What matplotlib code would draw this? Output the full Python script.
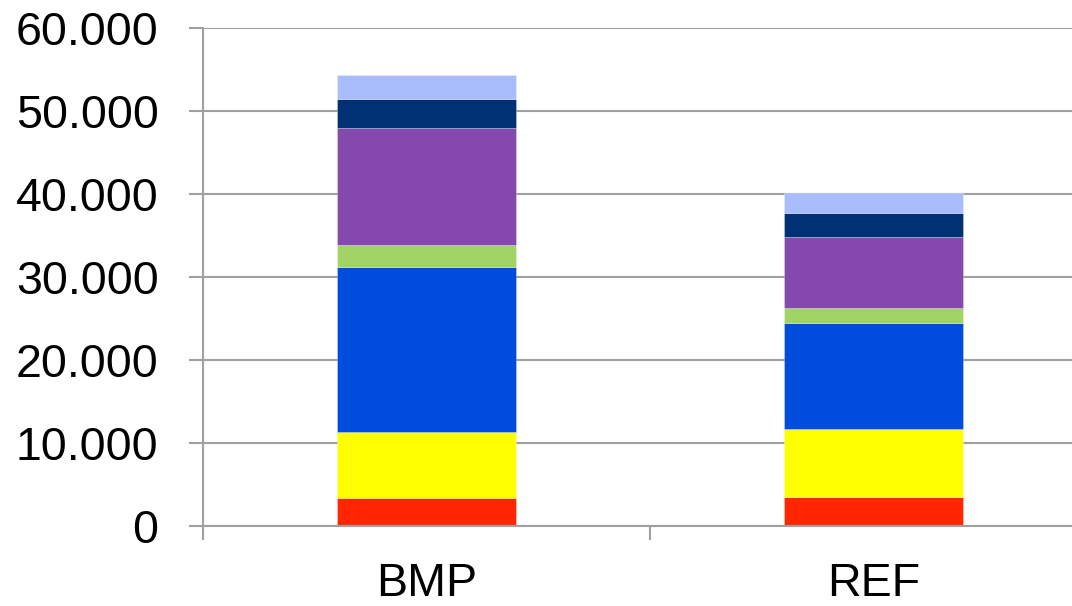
import numpy as np
import matplotlib.pyplot as plt
from matplotlib.ticker import FuncFormatter

plt.rcParams['font.family'] = ['Liberation Sans', 'DejaVu Sans']

categories = ['BMP', 'REF']

# stacked segments, bottom to top
seg_red = [3410, 3490]
seg_yellow = [7880, 8160]
seg_blue = [19950, 12840]
seg_green = [2580, 1740]
seg_purple = [14100, 8590]
seg_navy = [3530, 2850]
seg_light = [2920, 2410]

segments = [seg_red, seg_yellow, seg_blue, seg_green, seg_purple, seg_navy, seg_light]
colors = ['#ff2600', '#ffff00', '#004cdc', '#a0d464', '#8549ae', '#003175', '#a9bdfd']

grid_col = '#a0a0a0'

fig = plt.figure(figsize=(10.72, 6.06), dpi=100)
ax = fig.add_axes([203 / 1072, 80 / 606, 869 / 1072, 498 / 606])

x = np.arange(len(categories))
bottom = np.zeros(len(categories))
for vals, c in zip(segments, colors):
    ax.bar(x, vals, bottom=bottom, width=0.4, color=c, edgecolor=(1, 1, 1, 0.5),
           linewidth=0.4, zorder=3)
    bottom += np.array(vals)

ax.set_xlim(-0.5, 1.444)
ax.set_ylim(0, 60000)
ax.set_yticks(np.arange(0, 60001, 10000))
ax.yaxis.set_major_formatter(FuncFormatter(lambda v, p: f'{int(v):,}'.replace(',', '.')))

ax.set_xticks(x)
ax.set_xticklabels(categories)
ax.set_xticks([-0.5, 0.5], minor=True)

ax.grid(axis='y', color=grid_col, linewidth=1.5, zorder=0)
for s in ['top', 'right']:
    ax.spines[s].set_visible(False)
for s in ['left', 'bottom']:
    ax.spines[s].set_color(grid_col)
    ax.spines[s].set_linewidth(1.5)
    ax.spines[s].set_zorder(4)

ax.tick_params(axis='y', length=10, width=1.5, color=grid_col, pad=22,
               labelsize=33.5, labelcolor='black')
ax.tick_params(axis='x', which='major', length=0, pad=26, labelsize=33.5,
               labelcolor='black')
ax.tick_params(axis='x', which='minor', length=10, width=1.5, color=grid_col)

fig.savefig('out.png', dpi=100)
